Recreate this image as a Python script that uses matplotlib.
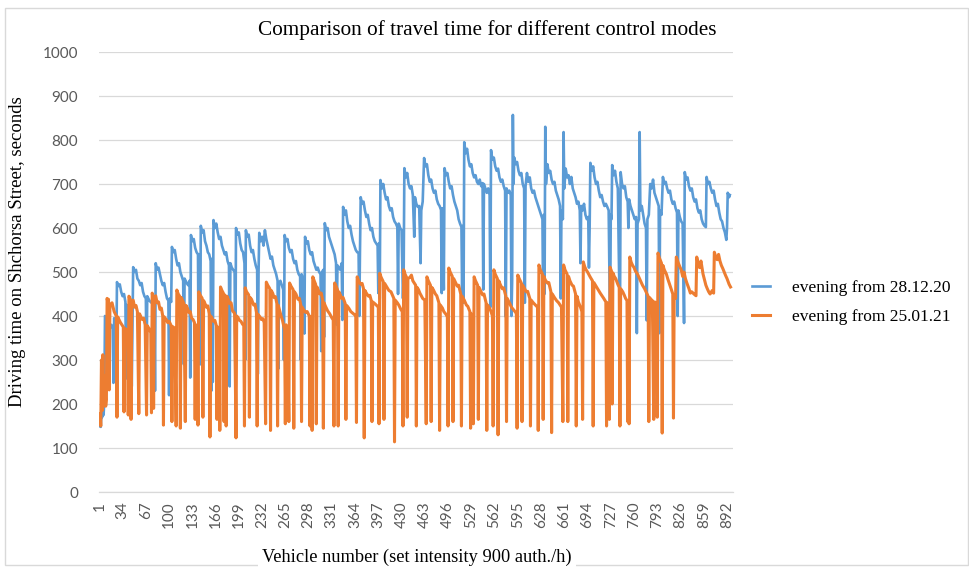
import matplotlib
matplotlib.use("Agg")
import matplotlib.pyplot as plt
from matplotlib.patches import Rectangle

# ---------------- data (vehicle number, travel time in seconds) ----------------
blue_series = [
    (1,150),(2,165),(3,148),(4,180),(5,170),(6,200),(7,175),(8,205),(9,400),(11,395),(13,405),(15,385),
    (17,375),(18,380),(20,370),(21,248),(22,395),(24,380),(25,300),
    (26,477),(28,468),(30,472),(32,455),(34,445),(36,450),(38,432),(39,258),(40,425),(42,420),(44,430),(46,418),(47,240),
    (49,511),(51,500),(53,505),(55,485),(57,480),(59,470),(61,475),(63,455),(65,445),(67,440),(68,300),(69,445),(72,435),
    (75,430),(77,438),(79,425),(80,230),
    (81,520),(83,505),(85,510),(87,495),(89,480),(91,470),(93,475),(95,455),(97,440),(99,435),(100,220),(101,440),(103,432),
    (104,557),(106,545),(108,550),(110,530),(112,515),(114,520),(116,500),(118,490),(120,480),(121,290),(122,485),(125,475),
    (127,470),(129,480),(130,260),
    (131,584),(133,570),(135,575),(137,555),(139,545),(141,540),(142,300),(143,540),(144,290),
    (145,605),(147,590),(149,595),(151,570),(153,560),(155,545),(157,540),(159,525),(160,230),(161,530),(162,250),
    (163,618),(165,600),(167,610),(169,590),(171,575),(173,580),(175,560),(177,550),(179,540),(181,545),(183,525),(185,515),
    (186,240),(187,520),(189,510),(191,505),(193,500),(194,280),
    (195,600),(197,585),(199,590),(201,565),(203,550),(205,545),(207,520),(208,300),
    (209,595),(211,580),(213,585),(215,560),(217,545),(219,550),(221,530),(223,515),(225,505),(226,268),(227,500),
    (228,589),(230,570),(232,580),(234,560),(236,595),(238,575),(240,560),(242,545),(244,530),(246,535),(248,515),(250,505),
    (252,495),(254,480),(255,280),(256,475),(258,480),(260,470),(262,460),(263,300),
    (264,584),(266,570),(268,575),(270,555),(272,545),(274,550),(276,530),(278,520),(280,525),(282,505),(284,495),(286,490),
    (287,300),(288,495),(290,485),(292,360),
    (293,580),(295,565),(297,570),(299,550),(301,540),(303,545),(305,525),(307,515),(309,505),(311,510),(313,500),(315,495),
    (316,320),(317,500),(319,505),(320,352),
    (321,611),(323,595),(325,600),(327,580),(329,570),(331,560),(333,550),(335,540),(337,520),(338,380),(339,515),(341,510),
    (343,505),(345,520),(346,391),
    (347,648),(349,630),(351,640),(353,615),(355,600),(357,605),(359,585),(361,570),(363,560),(365,550),(367,545),(369,543),
    (370,400),(371,550),
    (372,670),(374,655),(376,660),(378,640),(380,625),(382,630),(384,610),(386,595),(388,600),(390,580),(392,570),(394,565),
    (396,560),(397,452),(398,565),(399,440),
    (400,709),(402,690),(404,700),(406,680),(408,665),(410,670),(412,650),(414,640),(416,645),(418,625),(420,615),(422,610),
    (424,602),(425,450),(426,610),(428,600),(430,595),(432,440),(433,500),
    (434,736),(436,715),(438,725),(440,700),(442,690),(444,695),(446,675),(448,580),(449,670),(451,655),(453,648),(455,650),
    (457,520),(458,640),(460,660),
    (462,759),(464,740),(466,745),(468,720),(470,705),(472,710),(474,690),(476,680),(478,685),(480,665),(482,655),(484,650),
    (486,641),(487,452),(488,645),(490,460),
    (491,736),(493,720),(495,725),(497,705),(499,690),(501,695),(503,675),(505,660),(507,650),(509,640),(511,620),(513,610),
    (515,602),(516,450),(517,605),(518,430),
    (519,795),(521,770),(523,780),(525,755),(527,740),(529,745),(531,725),(533,715),(535,720),(537,705),(539,700),(541,710),
    (543,695),(545,702),(546,460),(547,700),(549,690),(551,680),(553,690),(555,675),(556,420),
    (557,777),(559,755),(561,760),(563,740),(565,730),(567,735),(569,715),(571,705),(573,710),(575,695),(577,685),(578,398),
    (579,690),(581,680),(583,685),(585,675),(586,400),(587,480),
    (588,857),(589,700),(590,760),(592,745),(594,750),(596,730),(598,720),(600,725),(602,700),(604,690),(605,430),(606,695),
    (608,725),(610,705),(612,715),(614,690),(616,680),(618,685),(620,670),(622,660),(624,650),(626,640),(628,630),(630,620),
    (631,420),(632,630),(633,450),
    (634,830),(635,700),(637,745),(639,725),(641,730),(643,710),(645,700),(647,705),(649,685),(651,675),(653,665),(655,650),
    (656,440),(657,640),(659,620),
    (660,818),(661,690),(663,735),(665,715),(667,720),(669,700),(671,716),(673,690),(675,680),(677,670),(679,655),(681,660),
    (683,640),(684,520),(685,650),(687,640),(689,655),(691,630),(693,620),(695,625),(696,510),(697,600),
    (698,748),(700,730),(702,740),(704,715),(706,700),(708,705),(710,685),(712,670),(714,675),(716,660),(718,650),(720,655),
    (722,648),(724,640),(726,375),(727,630),(728,620),
    (729,743),(731,720),(733,730),(735,705),(737,690),(740,368),(741,727),(743,700),(745,690),(747,695),(749,670),(751,660),
    (752,600),(753,665),(755,650),(757,640),(759,630),(761,620),(763,625),(764,361),(765,610),(767,620),
    (768,818),(769,640),(771,650),(773,630),(775,610),(777,600),(778,390),(779,620),(781,630),(783,700),(785,690),(787,710),
    (789,680),(791,670),(793,660),(795,650),(796,361),(797,640),(799,630),
    (801,716),(803,700),(805,705),(807,690),(809,680),(811,685),(813,665),(815,655),(817,660),(819,645),(821,635),(822,400),
    (823,640),(825,625),(827,615),(829,610),(831,384),
    (832,727),(834,710),(836,715),(838,695),(840,685),(842,690),(844,670),(846,660),(848,665),(850,645),(852,635),(854,640),
    (856,620),(858,610),(860,605),(862,602),
    (863,716),(865,700),(867,705),(869,690),(871,680),(873,685),(875,665),(877,650),(879,655),(881,635),(883,620),(885,615),
    (887,600),(889,590),(891,573),(892,600),(893,680),(895,670),(896,675),
]

orange_series = [
    (1,160),(2,178),(3,150),(4,300),(5,185),(6,312),(7,195),(8,205),(9,265),(10,195),(11,210),
    (12,440),(13,432),(14,438),(15,232),(16,425),(19,430),(22,410),(25,400),(26,170),(27,398),(31,385),(35,375),(36,182),
    (37,372),(40,368),(41,365),(42,175),
    (43,445),(45,438),(46,165),(47,432),(49,436),(51,420),(53,424),(55,410),(57,178),(58,405),(60,398),(62,392),(64,395),
    (66,380),(68,175),(69,378),(72,370),(74,362),(75,180),
    (76,452),(77,445),(78,190),(79,442),(81,446),(83,430),(85,432),(87,415),(89,418),(91,400),(92,152),(93,398),(96,392),
    (98,385),(100,388),(103,378),(104,160),(105,376),(108,372),(110,150),
    (111,459),(113,450),(115,445),(116,145),(117,442),(119,436),(121,428),(123,160),(124,424),(126,418),(128,408),(130,410),
    (132,395),(134,392),(136,385),(137,165),(138,380),(140,368),(141,152),
    (142,455),(144,448),(147,440),(148,170),(149,435),(151,428),(153,420),(155,423),(157,405),(158,125),(159,400),(161,395),
    (163,388),(165,390),(167,378),(168,165),(169,375),(171,370),(172,140),
    (173,466),(175,458),(177,452),(178,160),(179,448),(181,150),(182,445),(184,438),(186,428),(188,430),(190,412),(193,406),
    (195,123),(196,400),(198,396),(200,390),(202,388),(204,382),(206,378),(207,150),
    (208,464),(210,455),(213,448),(214,170),(215,442),(217,438),(220,425),(222,427),(224,408),(225,150),(226,404),(229,398),
    (231,392),(233,394),(235,385),(237,155),
    (238,477),(240,470),(243,462),(244,140),(245,458),(247,452),(249,442),(251,444),(253,428),(254,150),(255,424),(257,412),
    (259,400),(261,390),(263,375),(264,368),(265,155),(266,380),(268,372),(270,160),
    (271,475),(273,468),(276,460),(277,145),(278,455),(280,450),(283,438),(285,440),(287,425),(288,160),(289,420),(291,414),
    (294,408),(296,410),(299,400),(300,150),(301,398),(302,396),(303,140),
    (304,489),(306,480),(308,472),(309,155),(310,466),(312,458),(314,450),(316,452),(318,436),(319,145),(320,430),(322,422),
    (325,412),(328,405),(331,396),(333,391),(334,150),
    (335,475),(337,468),(339,460),(340,150),(341,455),(343,448),(345,440),(347,442),(350,428),(351,165),(352,424),(355,418),
    (358,410),(361,406),(364,402),(365,398),(366,158),
    (367,489),(369,480),(372,472),(374,474),(376,462),(377,123),(378,458),(380,452),(383,445),(385,447),(387,435),(388,160),
    (389,432),(392,428),(394,425),(397,420),(398,155),
    (399,497),(401,488),(404,478),(405,165),(406,474),(409,466),(412,458),(415,455),(419,440),(420,114),(421,436),(424,430),
    (426,425),(429,415),(431,410),(432,150),
    (433,505),(435,495),(437,488),(438,170),(439,485),(442,488),(444,493),(446,480),(448,475),(450,470),(451,150),(452,465),
    (454,460),(456,452),(458,446),(460,440),(463,436),(465,155),
    (466,489),(468,480),(471,470),(472,160),(473,465),(475,460),(478,450),(480,446),(483,430),(484,140),(485,425),(488,418),
    (490,410),(493,404),(495,398),(496,150),
    (497,509),(499,500),(502,490),(503,160),(504,485),(506,478),(509,468),(511,470),(514,450),(515,150),(516,445),(519,436),
    (522,425),(524,422),(527,410),(528,145),(529,405),(531,398),(532,155),
    (533,489),(535,480),(538,470),(539,165),(540,465),(542,458),(545,448),(547,450),(550,430),(551,140),(552,425),(555,418),
    (557,410),(559,400),(560,150),
    (561,505),(563,495),(566,485),(567,130),(568,480),(570,472),(573,462),(575,464),(578,445),(579,160),(580,440),(583,430),
    (586,420),(589,414),(592,408),(593,405),(594,145),
    (595,493),(597,485),(600,475),(601,160),(602,470),(604,464),(607,455),(609,456),(612,440),(613,150),(614,436),(617,430),
    (620,425),(623,420),(624,140),
    (625,516),(627,505),(630,495),(631,165),(632,490),(634,482),(637,475),(639,476),(642,455),(643,135),(644,450),(647,442),
    (650,435),(653,430),(655,425),(657,420),(659,160),
    (660,516),(662,505),(665,495),(666,160),(667,490),(669,480),(672,470),(674,468),(677,450),(678,150),(679,445),(681,432),
    (684,420),(686,410),(687,165),
    (688,523),(690,512),(692,505),(694,500),(696,494),(698,488),(701,480),(702,150),(703,476),(706,468),(709,460),(712,452),
    (715,445),(717,440),(720,432),(721,150),(722,430),(724,425),(725,165),
    (726,511),(728,502),(729,200),(730,498),(732,490),(734,485),(737,472),(739,465),(740,150),(741,462),(744,455),(746,448),
    (748,440),(750,435),(751,160),(752,432),(753,155),
    (754,534),(756,522),(758,515),(760,510),(762,502),(765,495),(767,488),(770,478),(772,470),(775,462),(778,452),(780,445),
    (781,160),(782,442),(784,438),(786,435),(788,165),(789,432),(792,430),(793,170),
    (794,543),(796,532),(799,520),(800,134),(801,515),(803,505),(806,495),(808,484),(811,470),(813,460),(815,450),(816,168),
    (817,445),(819,440),
    (820,534),(823,520),(825,512),(827,505),(829,490),(831,500),(833,485),(835,475),(838,462),(840,452),(842,455),(845,450),
    (848,446),
    (849,534),(851,520),(853,510),(855,525),(858,495),(860,482),(862,470),(864,462),(866,455),(868,450),(871,458),(873,452),
    (874,545),(876,535),(878,528),(880,540),(882,525),(884,515),(886,508),(888,500),(890,492),(892,485),(895,472),(897,466),
]

series_names = ["evening from 28.12.20", "evening from 25.01.21"]
series_colors = ["#5B9BD5", "#ED7D31"]
n_vehicles = 900
x_tick_values = list(range(1, 893, 33))
y_tick_values = list(range(0, 1001, 100))

title_text = "Comparison of travel time for different control modes"
x_label_text = "Vehicle number (set intensity 900 auth./h)"
y_label_text = "Driving time on Shchorsa Street, seconds"

# ---------------- figure ----------------
W, H = 969, 569
fig = plt.figure(figsize=(W / 100, H / 100), dpi=100)
fig.patch.set_facecolor("white")

# chart border (Excel chart area)
fig.patches.append(Rectangle((5 / W, 1 - 565 / H), (968 - 5) / W, (565 - 8) / H,
                             transform=fig.transFigure, fill=False,
                             edgecolor="#d9d9d9", linewidth=1.0))

left, right, top, bottom = 99, 733, 52, 492
ax = fig.add_axes([left / W, 1 - bottom / H, (right - left) / W, (bottom - top) / H])

serif = ["Liberation Serif", "DejaVu Serif"]
sans = ["Lato", "DejaVu Sans"]

bx, by = zip(*blue_series)
ox, oy = zip(*orange_series)
l1, = ax.plot(bx, by, color=series_colors[0], linewidth=1.9, solid_joinstyle="round")
l2, = ax.plot(ox, oy, color=series_colors[1], linewidth=2.2, solid_joinstyle="round")

ax.set_xlim(0.5, n_vehicles + 0.5)
ax.set_ylim(0, 1000)
ax.set_yticks(y_tick_values)
ax.set_xticks(x_tick_values)
ax.set_xticklabels([str(v) for v in x_tick_values], rotation=90,
                   family=sans, fontsize=11, color="#595959")
ax.set_yticklabels([str(v) for v in y_tick_values], family=sans,
                   fontsize=11, color="#595959")
ax.tick_params(axis="both", length=0)
ax.tick_params(axis="x", pad=7)
ax.tick_params(axis="y", pad=15)
ax.grid(axis="y", color="#d9d9d9", linewidth=0.9)
ax.set_axisbelow(True)
for s in ["left", "right", "top"]:
    ax.spines[s].set_visible(False)
ax.spines["bottom"].set_color("#d9d9d9")
ax.spines["bottom"].set_linewidth(0.9)

fig.text(487 / W, 1 - 30 / H, title_text, family=serif, fontsize=15.3,
         ha="center", va="center", color="black")
fig.text(417 / W, 1 - 557 / H, x_label_text, family=serif, fontsize=13.2,
         ha="center", va="center", color="black",
         bbox=dict(facecolor="white", edgecolor="none", pad=3))
fig.text(18 / W, 1 - 252 / H, y_label_text, family=serif, fontsize=13.5,
         rotation=90, ha="center", va="center", color="black")

fig.legend([l1, l2], series_names, loc="upper left",
           bbox_to_anchor=(736 / W, 1 - 264 / H), frameon=False,
           prop={"family": serif, "size": 12.5}, handlelength=1.05,
           handletextpad=1.25, labelspacing=0.75)

fig.savefig("out.png", dpi=100, facecolor="white")
